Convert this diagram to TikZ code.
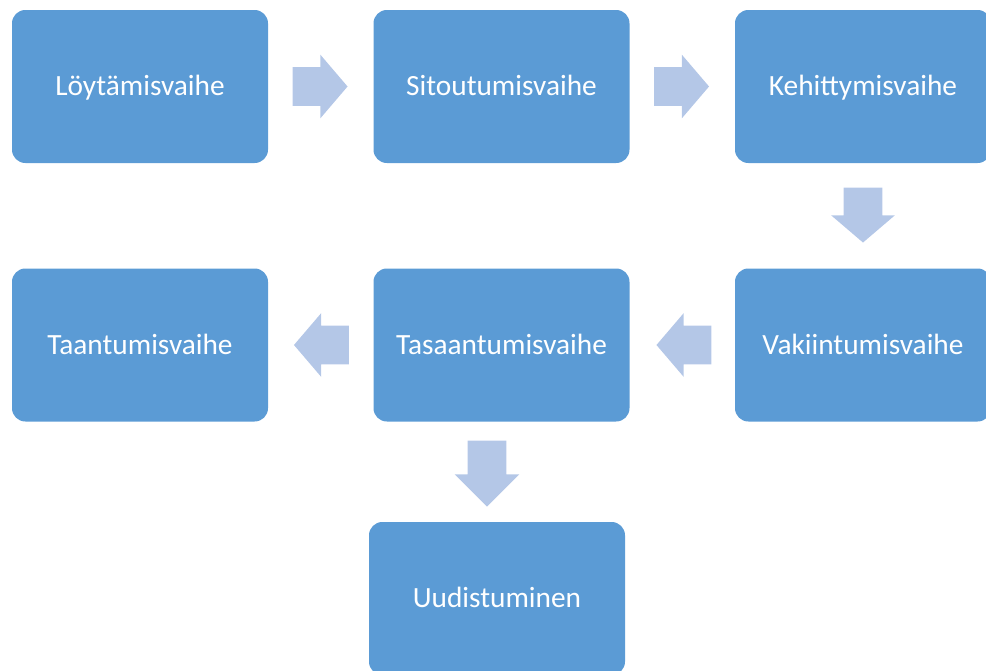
\documentclass[tikz,border=0pt]{standalone}
\usepackage{fontspec}
\setmainfont{Carlito}
\usetikzlibrary{shapes.arrows, calc}
\definecolor{phaseblue}{HTML}{5B9BD5}
\definecolor{flowblue}{HTML}{B4C7E7}

\begin{document}
\begin{tikzpicture}[x=0.75pt, y=-0.75pt,
  phase/.style={rectangle, rounded corners=10pt, fill=phaseblue, text=white,
    minimum width=192pt, minimum height=114.75pt, inner sep=0pt,
    text height=14.2pt, text depth=0pt,
    font=\fontsize{22}{26}\selectfont},
  flow/.style={single arrow, fill=flowblue, inner xsep=0pt, inner ysep=14.25pt,
    rotate=#1, minimum height=41.25pt, anchor=tail,
    single arrow head extend=9.4pt, single arrow tip angle=99},
  bigflow/.style={flow=-90, minimum height=49.5pt,
    single arrow head extend=9.75pt, single arrow tip angle=90}]
\clip (0,0) rectangle (986,671);

\node[phase] (loyt) at (140,86.5) {Löytämisvaihe};
\node[phase] (sito) at (501.5,86.5) {Sitoutumisvaihe};
\node[phase] (kehi) at (863,86.5) {Kehittymisvaihe};
\node[phase] (vaki) at (863,345) {Vakiintumisvaihe};
\node[phase] (tasa) at (501.5,345) {Tasaantumisvaihe};
\node[phase] (taan) at (140,345) {Taantumisvaihe};
\node[phase] (uudi) at (497,598.5) {Uudistuminen};

% block arrows between the phases, placed by their tails
\node[flow=0] (f1) at ($(loyt.east)+(24,0)$) {};
\node[flow=0] (f2) at ($(sito.east)+(24,0)$) {};
\node[flow=-90] (f3) at ($(kehi.south)+(0,24)$) {};
\node[flow=180] (f4) at ($(vaki.west)+(-23,0)$) {};
\node[flow=180] (f5) at ($(tasa.west)+(-24,0)$) {};
\node[bigflow] (f6) at ($(tasa.south)+(-14.5,18.5)$) {};
\end{tikzpicture}
\end{document}
